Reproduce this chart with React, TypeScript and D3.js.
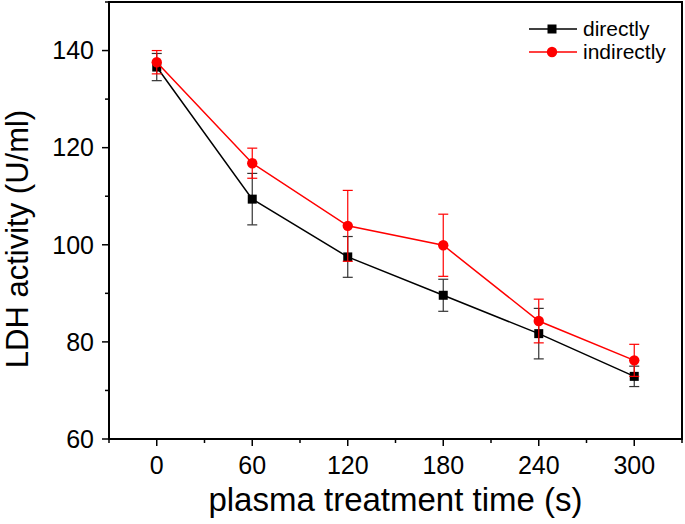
import React from "react";
import * as d3 from "d3";

const times = [0, 60, 120, 180, 240, 300];
const directly = [136.6, 109.4, 97.5, 89.6, 81.7, 72.9];
const directlyErr = [2.8, 5.3, 4.2, 3.3, 5.2, 2.1];
const indirectly = [137.6, 116.8, 103.9, 99.9, 84.3, 76.2];
const indirectlyErr = [2.4, 3.1, 7.3, 6.4, 4.5, 3.3];
const xTicks = [0, 60, 120, 180, 240, 300];
const xMinor = [-30, 30, 90, 150, 210, 270, 330];
const yTicks = [60, 80, 100, 120, 140];
const yMinor = [70, 90, 110, 130, 150];

const W = 685, H = 524;
const L = 109, R = 682, T = 2, B = 439;
const FONT = "'Liberation Sans', Arial, sans-serif";

export default function App() {
  const x = d3.scaleLinear().domain([-30, 330]).range([L, R]);
  const y = d3.scaleLinear().domain([60, 150]).range([B, T]);
  const line = d3.line<number>().x((_, i) => x(times[i])).y((d) => y(d));

  const series = [
    { name: "directly", vals: directly, err: directlyErr, color: "#000000", errColor: "#333333", marker: "square" },
    { name: "indirectly", vals: indirectly, err: indirectlyErr, color: "#ff0000", errColor: "#ff0000", marker: "circle" },
  ];

  const marker = (type: string, cx: number, cy: number, color: string, key: string) =>
    type === "square" ? (
      <rect key={key} x={cx - 4.5} y={cy - 4.5} width={9} height={9} fill={color} />
    ) : (
      <circle key={key} cx={cx} cy={cy} r={5.2} fill={color} />
    );

  return (
    <div style={{ position: "absolute", left: 0, top: 0 }}>
      <svg width={W} height={H} style={{ display: "block", background: "#fff" }}>
        <rect x={0} y={0} width={W} height={H} fill="#fff" />
        <rect x={L} y={T} width={R - L} height={B - T} fill="none" stroke="#000" strokeWidth={2} />
        {yTicks.map((t) => (
          <g key={"yt" + t}>
            <line x1={L - 7} x2={L} y1={y(t)} y2={y(t)} stroke="#000" strokeWidth={1.5} />
            <text x={L - 15} y={y(t)} dy="0.35em" textAnchor="end" fontFamily={FONT} fontSize={25}>{t}</text>
          </g>
        ))}
        {yMinor.map((t) => (
          <line key={"ym" + t} x1={L - 4} x2={L} y1={y(t)} y2={y(t)} stroke="#000" strokeWidth={1.5} />
        ))}
        {xTicks.map((t) => (
          <g key={"xt" + t}>
            <line x1={x(t)} x2={x(t)} y1={B} y2={B + 7} stroke="#000" strokeWidth={1.5} />
            <text x={x(t)} y={474} textAnchor="middle" fontFamily={FONT} fontSize={25}>{t}</text>
          </g>
        ))}
        {xMinor.map((t) => (
          <line key={"xm" + t} x1={x(t)} x2={x(t)} y1={B} y2={B + 4} stroke="#000" strokeWidth={1.5} />
        ))}
        <text x={x(150)} y={511} textAnchor="middle" fontFamily={FONT} fontSize={33}>plasma treatment time (s)</text>
        <text transform={`translate(28, 239) rotate(-90)`} textAnchor="middle" fontFamily={FONT} fontSize={31}>LDH activity (U/ml)</text>
        {series.map((s) => (
          <g key={s.name}>
            {s.vals.map((v, i) => (
              <g key={i} stroke={s.errColor} strokeWidth={1.2}>
                <line x1={x(times[i])} x2={x(times[i])} y1={y(v + s.err[i])} y2={y(v - s.err[i])} />
                <line x1={x(times[i]) - 5} x2={x(times[i]) + 5} y1={y(v + s.err[i])} y2={y(v + s.err[i])} />
                <line x1={x(times[i]) - 5} x2={x(times[i]) + 5} y1={y(v - s.err[i])} y2={y(v - s.err[i])} />
              </g>
            ))}
            <path d={line(s.vals) || ""} fill="none" stroke={s.color} strokeWidth={1.5} />
            {s.vals.map((v, i) => marker(s.marker, x(times[i]), y(v), s.color, s.name + i))}
          </g>
        ))}
        {series.map((s, i) => {
          const ly = 29 + i * 23;
          return (
            <g key={"lg" + s.name}>
              <line x1={529} x2={577} y1={ly} y2={ly} stroke={s.color} strokeWidth={1.5} />
              {marker(s.marker, 552, ly, s.color, "lm" + i)}
              <text x={583} y={ly} dy="0.35em" fontFamily={FONT} fontSize={21}>{s.name}</text>
            </g>
          );
        })}
      </svg>
    </div>
  );
}
